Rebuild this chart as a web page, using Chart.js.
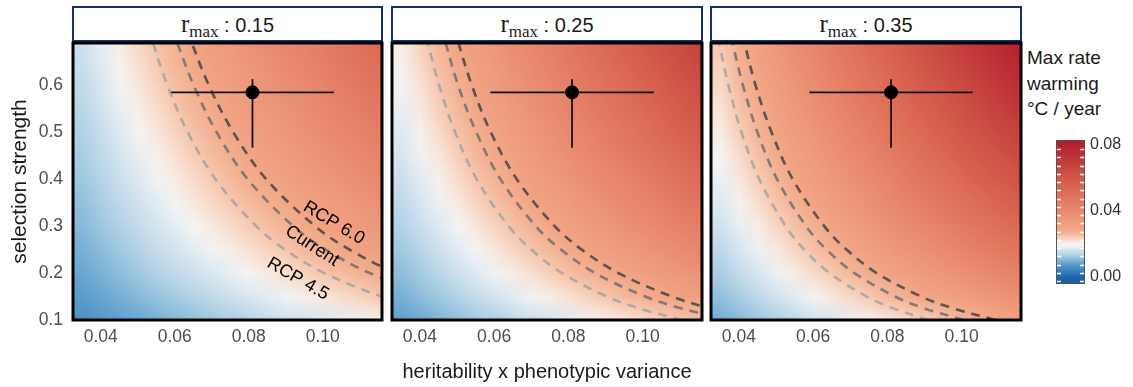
<!DOCTYPE html>
<html>
<head>
<meta charset="utf-8">
<script src="https://cdn.jsdelivr.net/npm/chart.js@4.4.1/dist/chart.umd.min.js"></script>
<style>
  body { margin: 0; background: #fff; }
  #wrap { position: relative; width: 1133px; height: 387px; overflow: hidden; font-family: "Liberation Sans", Arial, sans-serif; }
  canvas { position: absolute; }
  .strip { position: absolute; top: 6px; height: 36px; box-sizing: border-box; border: 2.5px solid #14306e; background: #fff;
           text-align: center; font-size: 20px; line-height: 31px; color: #1a1a1a; }
  .strip .m { font-family: "Liberation Serif", "DejaVu Serif", serif; font-size: 25px; }
  .strip sub { font-size: 17px; vertical-align: -5px; line-height: 0; }
  #legtitle { position: absolute; left: 1027px; top: 45px; font-size: 19px; line-height: 25.5px; color: #1a1a1a; }
</style>
</head>
<body>
<div id="wrap">
  <div class="strip" id="s1" style="left:72px;width:311px"></div>
  <div class="strip" id="s2" style="left:391px;width:312px"></div>
  <div class="strip" id="s3" style="left:710px;width:312px"></div>
  <div id="legtitle">Max rate<br>warming<br>°C / year</div>
  <canvas id="p1" width="384" height="347" style="left:0;top:40px"></canvas>
  <canvas id="p2" width="320" height="347" style="left:386px;top:40px"></canvas>
  <canvas id="p3" width="320" height="347" style="left:706px;top:40px"></canvas>
  <canvas id="cb" width="93" height="387" style="left:1040px;top:0"></canvas>
</div>
<script>
// facets
const rMax = [0.15, 0.25, 0.35];

// axes
const xTicks = [0.04, 0.06, 0.08, 0.10];
const yTicks = [0.1, 0.2, 0.3, 0.4, 0.5, 0.6];
const xMin = 0.0325, xMax = 0.1160;
const yMin = 0.1, yMax = 0.69;

// heat grid: heritability x phenotypic variance (columns), selection strength (rows, bottom to top)
const gridX = [0.035, 0.040, 0.045, 0.050, 0.055, 0.060, 0.065, 0.070, 0.075, 0.080, 0.085, 0.090, 0.095, 0.100, 0.105, 0.110, 0.115];
const gridY = [0.10, 0.15, 0.20, 0.25, 0.30, 0.35, 0.40, 0.45, 0.50, 0.55, 0.60, 0.65, 0.70];

// max rate of warming (°C / year), r_max = 0.15
const rate015 = [
  [0.0061,0.0069,0.0078,0.0087,0.0095,0.0104,0.0113,0.0121,0.0130,0.0139,0.0147,0.0156,0.0165,0.0173,0.0182,0.0191,0.0199],
  [0.0074,0.0085,0.0095,0.0106,0.0117,0.0127,0.0138,0.0148,0.0159,0.0170,0.0180,0.0191,0.0202,0.0212,0.0223,0.0233,0.0244],
  [0.0086,0.0098,0.0110,0.0122,0.0135,0.0147,0.0159,0.0171,0.0184,0.0196,0.0208,0.0220,0.0233,0.0245,0.0257,0.0269,0.0282],
  [0.0096,0.0110,0.0123,0.0137,0.0151,0.0164,0.0178,0.0192,0.0205,0.0219,0.0233,0.0246,0.0260,0.0274,0.0288,0.0301,0.0315],
  [0.0105,0.0120,0.0135,0.0150,0.0165,0.0180,0.0195,0.0210,0.0225,0.0240,0.0255,0.0270,0.0285,0.0300,0.0315,0.0330,0.0345],
  [0.0113,0.0130,0.0146,0.0162,0.0178,0.0194,0.0211,0.0227,0.0243,0.0259,0.0275,0.0292,0.0308,0.0324,0.0340,0.0356,0.0373],
  [0.0121,0.0139,0.0156,0.0173,0.0191,0.0208,0.0225,0.0242,0.0260,0.0277,0.0294,0.0312,0.0329,0.0346,0.0364,0.0381,0.0398],
  [0.0129,0.0147,0.0165,0.0184,0.0202,0.0220,0.0239,0.0257,0.0276,0.0294,0.0312,0.0331,0.0349,0.0367,0.0386,0.0404,0.0423],
  [0.0136,0.0155,0.0174,0.0194,0.0213,0.0232,0.0252,0.0271,0.0290,0.0310,0.0329,0.0349,0.0368,0.0387,0.0407,0.0426,0.0445],
  [0.0142,0.0162,0.0183,0.0203,0.0223,0.0244,0.0264,0.0284,0.0305,0.0325,0.0345,0.0366,0.0386,0.0406,0.0427,0.0447,0.0467],
  [0.0148,0.0170,0.0191,0.0212,0.0233,0.0255,0.0276,0.0297,0.0318,0.0339,0.0361,0.0382,0.0403,0.0424,0.0445,0.0467,0.0488],
  [0.0155,0.0177,0.0199,0.0221,0.0243,0.0265,0.0287,0.0309,0.0331,0.0353,0.0375,0.0397,0.0420,0.0442,0.0464,0.0486,0.0508],
  [0.0160,0.0183,0.0206,0.0229,0.0252,0.0275,0.0298,0.0321,0.0344,0.0367,0.0390,0.0412,0.0435,0.0458,0.0481,0.0504,0.0527]
];

// r_max = 0.25
const rate025 = [
  [0.0078,0.0089,0.0101,0.0112,0.0123,0.0134,0.0145,0.0157,0.0168,0.0179,0.0190,0.0201,0.0212,0.0224,0.0235,0.0246,0.0257],
  [0.0096,0.0110,0.0123,0.0137,0.0151,0.0164,0.0178,0.0192,0.0205,0.0219,0.0233,0.0246,0.0260,0.0274,0.0288,0.0301,0.0315],
  [0.0111,0.0126,0.0142,0.0158,0.0174,0.0190,0.0206,0.0221,0.0237,0.0253,0.0269,0.0285,0.0300,0.0316,0.0332,0.0348,0.0364],
  [0.0124,0.0141,0.0159,0.0177,0.0194,0.0212,0.0230,0.0247,0.0265,0.0283,0.0301,0.0318,0.0336,0.0354,0.0371,0.0389,0.0407],
  [0.0136,0.0155,0.0174,0.0194,0.0213,0.0232,0.0252,0.0271,0.0290,0.0310,0.0329,0.0349,0.0368,0.0387,0.0407,0.0426,0.0445],
  [0.0146,0.0167,0.0188,0.0209,0.0230,0.0251,0.0272,0.0293,0.0314,0.0335,0.0356,0.0377,0.0397,0.0418,0.0439,0.0460,0.0481],
  [0.0157,0.0179,0.0201,0.0224,0.0246,0.0268,0.0291,0.0313,0.0335,0.0358,0.0380,0.0402,0.0425,0.0447,0.0470,0.0492,0.0514],
  [0.0166,0.0190,0.0213,0.0237,0.0261,0.0285,0.0308,0.0332,0.0356,0.0379,0.0403,0.0427,0.0451,0.0474,0.0498,0.0522,0.0545],
  [0.0175,0.0200,0.0225,0.0250,0.0275,0.0300,0.0325,0.0350,0.0375,0.0400,0.0425,0.0450,0.0475,0.0500,0.0525,0.0550,0.0575],
  [0.0184,0.0210,0.0236,0.0262,0.0288,0.0315,0.0341,0.0367,0.0393,0.0420,0.0446,0.0472,0.0498,0.0524,0.0551,0.0577,0.0603],
  [0.0192,0.0219,0.0246,0.0274,0.0301,0.0329,0.0356,0.0383,0.0411,0.0438,0.0466,0.0493,0.0520,0.0548,0.0575,0.0602,0.0630],
  [0.0200,0.0228,0.0257,0.0285,0.0314,0.0342,0.0371,0.0399,0.0428,0.0456,0.0485,0.0513,0.0542,0.0570,0.0599,0.0627,0.0656],
  [0.0207,0.0237,0.0266,0.0296,0.0325,0.0355,0.0385,0.0414,0.0444,0.0473,0.0503,0.0532,0.0562,0.0592,0.0621,0.0651,0.0680]
];

// r_max = 0.35
const rate035 = [
  [0.0093,0.0106,0.0119,0.0132,0.0146,0.0159,0.0172,0.0185,0.0198,0.0212,0.0225,0.0238,0.0251,0.0265,0.0278,0.0291,0.0304],
  [0.0113,0.0130,0.0146,0.0162,0.0178,0.0194,0.0211,0.0227,0.0243,0.0259,0.0275,0.0292,0.0308,0.0324,0.0340,0.0356,0.0373],
  [0.0131,0.0150,0.0168,0.0187,0.0206,0.0224,0.0243,0.0262,0.0281,0.0299,0.0318,0.0337,0.0355,0.0374,0.0393,0.0412,0.0430],
  [0.0146,0.0167,0.0188,0.0209,0.0230,0.0251,0.0272,0.0293,0.0314,0.0335,0.0356,0.0377,0.0397,0.0418,0.0439,0.0460,0.0481],
  [0.0160,0.0183,0.0206,0.0229,0.0252,0.0275,0.0298,0.0321,0.0344,0.0367,0.0390,0.0412,0.0435,0.0458,0.0481,0.0504,0.0527],
  [0.0173,0.0198,0.0223,0.0247,0.0272,0.0297,0.0322,0.0346,0.0371,0.0396,0.0421,0.0445,0.0470,0.0495,0.0520,0.0544,0.0569],
  [0.0185,0.0212,0.0238,0.0265,0.0291,0.0317,0.0344,0.0370,0.0397,0.0423,0.0450,0.0476,0.0503,0.0529,0.0556,0.0582,0.0609],
  [0.0196,0.0224,0.0253,0.0281,0.0309,0.0337,0.0365,0.0393,0.0421,0.0449,0.0477,0.0505,0.0533,0.0561,0.0589,0.0617,0.0645],
  [0.0207,0.0237,0.0266,0.0296,0.0325,0.0355,0.0385,0.0414,0.0444,0.0473,0.0503,0.0532,0.0562,0.0592,0.0621,0.0651,0.0680],
  [0.0217,0.0248,0.0279,0.0310,0.0341,0.0372,0.0403,0.0434,0.0465,0.0496,0.0527,0.0558,0.0589,0.0620,0.0652,0.0683,0.0714],
  [0.0227,0.0259,0.0292,0.0324,0.0356,0.0389,0.0421,0.0454,0.0486,0.0518,0.0551,0.0583,0.0616,0.0648,0.0680,0.0713,0.0745],
  [0.0236,0.0270,0.0304,0.0337,0.0371,0.0405,0.0438,0.0472,0.0506,0.0540,0.0573,0.0607,0.0641,0.0675,0.0708,0.0742,0.0776],
  [0.0245,0.0280,0.0315,0.0350,0.0385,0.0420,0.0455,0.0490,0.0525,0.0560,0.0595,0.0630,0.0665,0.0700,0.0735,0.0770,0.0805]
];

// warming-rate contours (x at each selection strength in contourY)
const contourY = [0.1, 0.125, 0.15, 0.2, 0.25, 0.3, 0.4, 0.5, 0.6, 0.7];
const rcp45_015   = [0.1420, 0.1270, 0.1159, 0.1004, 0.0898, 0.0820, 0.0710, 0.0635, 0.0580, 0.0537];
const current_015 = [0.1594, 0.1425, 0.1301, 0.1127, 0.1008, 0.0920, 0.0797, 0.0713, 0.0651, 0.0602];
const rcp60_015   = [0.1695, 0.1516, 0.1384, 0.1199, 0.1072, 0.0979, 0.0847, 0.0758, 0.0692, 0.0641];
const rcp45_025   = [0.1107, 0.0990, 0.0904, 0.0783, 0.0700, 0.0639, 0.0553, 0.0495, 0.0452, 0.0418];
const current_025 = [0.1233, 0.1103, 0.1007, 0.0872, 0.0780, 0.0712, 0.0617, 0.0552, 0.0503, 0.0466];
const rcp60_025   = [0.1322, 0.1182, 0.1079, 0.0935, 0.0836, 0.0763, 0.0661, 0.0591, 0.0540, 0.0500];
const rcp45_035   = [0.0911, 0.0815, 0.0744, 0.0644, 0.0576, 0.0526, 0.0455, 0.0407, 0.0372, 0.0344];
const current_035 = [0.1006, 0.0899, 0.0821, 0.0711, 0.0636, 0.0581, 0.0503, 0.0450, 0.0411, 0.0380];
const rcp60_035   = [0.1091, 0.0976, 0.0891, 0.0771, 0.0690, 0.0630, 0.0545, 0.0488, 0.0445, 0.0412];

// contour names and where they are written (first panel)
const contourNames = ['RCP 6.0', 'Current', 'RCP 4.5'];
const labelX = [0.1030, 0.0971, 0.0933];
const labelY = [0.3066, 0.2576, 0.1873];
const labelAngle = [31, 33, 30];

// observed estimate with ranges
const obsX = [0.081];
const obsY = [0.585];
const obsXRange = [0.059, 0.103];
const obsYRange = [0.467, 0.613];

// colour scale
const cbTicks = [0.00, 0.04, 0.08];
const cbMarks = [-0.0025, 0.0025, 0.0075, 0.0125, 0.0175, 0.0225, 0.0275, 0.0325, 0.0375, 0.0425, 0.0475, 0.0525, 0.0575, 0.0625, 0.0675, 0.0725, 0.0775];
const colorStops = [-0.0042, 0, 0.006, 0.009, 0.012, 0.015, 0.018, 0.0195, 0.0215, 0.0235, 0.026, 0.029, 0.035, 0.045, 0.055, 0.065, 0.075, 0.083];
const stopColors = ['#1a5a9e', '#2166ac', '#4a90c3', '#6eaad3', '#9dc7e0', '#c4dbeb', '#e4edf3', '#f6f5f4', '#f9e5da',
                    '#f8d1bc', '#f5b99c', '#f2a686', '#ee9779', '#e47d63', '#d8644f', '#ca4a42', '#bb2e36', '#b2182b'];

Chart.defaults.font.family = '"Liberation Sans", Arial, sans-serif';

document.getElementById('s1').innerHTML = '<span class="m">r<sub>max</sub></span> : ' + rMax[0].toFixed(2);
document.getElementById('s2').innerHTML = '<span class="m">r<sub>max</sub></span> : ' + rMax[1].toFixed(2);
document.getElementById('s3').innerHTML = '<span class="m">r<sub>max</sub></span> : ' + rMax[2].toFixed(2);

function hexToRgb(h) {
  return [parseInt(h.slice(1, 3), 16), parseInt(h.slice(3, 5), 16), parseInt(h.slice(5, 7), 16)];
}
function rateColor(v) {
  if (v <= colorStops[0]) return hexToRgb(stopColors[0]);
  for (let i = 1; i < colorStops.length; i++) {
    if (v <= colorStops[i]) {
      const t = (v - colorStops[i - 1]) / (colorStops[i] - colorStops[i - 1]);
      const a = hexToRgb(stopColors[i - 1]), b = hexToRgb(stopColors[i]);
      return a.map((c, k) => Math.round(c + (b[k] - c) * t));
    }
  }
  return hexToRgb(stopColors[stopColors.length - 1]);
}

// no automatic label padding: the plot areas are placed by hand
function noPad(s) {
  s.paddingTop = 0; s.paddingBottom = 0; s.paddingLeft = 0; s.paddingRight = 0;
}

// heat field: one pixel per grid cell, stretched over the cell extents given by the scales
const heatPlugin = {
  id: 'heat',
  beforeDatasetsDraw(chart, args, opts) {
    const rates = opts.rates;
    if (!rates) return;
    const nx = gridX.length, ny = gridY.length;
    const off = document.createElement('canvas');
    off.width = nx; off.height = ny;
    const octx = off.getContext('2d');
    const img = octx.createImageData(nx, ny);
    for (let j = 0; j < ny; j++) {
      for (let i = 0; i < nx; i++) {
        const c = rateColor(rates[j][i]);
        const p = ((ny - 1 - j) * nx + i) * 4;
        img.data[p] = c[0]; img.data[p + 1] = c[1]; img.data[p + 2] = c[2]; img.data[p + 3] = 255;
      }
    }
    octx.putImageData(img, 0, 0);
    const {ctx, chartArea, scales: {x, y}} = chart;
    const hx = (gridX[1] - gridX[0]) / 2, hy = (gridY[1] - gridY[0]) / 2;
    const left = x.getPixelForValue(gridX[0] - hx), right = x.getPixelForValue(gridX[nx - 1] + hx);
    const top = y.getPixelForValue(gridY[ny - 1] + hy), bottom = y.getPixelForValue(gridY[0] - hy);
    ctx.save();
    ctx.beginPath();
    ctx.rect(chartArea.left, chartArea.top, chartArea.width, chartArea.height);
    ctx.clip();
    ctx.imageSmoothingEnabled = true;
    ctx.imageSmoothingQuality = 'low';
    ctx.drawImage(off, left, top, right - left, bottom - top);
    ctx.restore();
  }
};

const contourTextPlugin = {
  id: 'contourText',
  afterDatasetsDraw(chart, args, opts) {
    if (!opts.show) return;
    const {ctx, scales: {x, y}} = chart;
    ctx.save();
    ctx.font = '18px "Liberation Sans", Arial, sans-serif';
    ctx.fillStyle = '#000';
    ctx.textAlign = 'center';
    ctx.textBaseline = 'middle';
    contourNames.forEach((t, i) => {
      ctx.save();
      ctx.translate(x.getPixelForValue(labelX[i]), y.getPixelForValue(labelY[i]));
      ctx.rotate(labelAngle[i] * Math.PI / 180);
      ctx.fillText(t, 0, 0);
      ctx.restore();
    });
    ctx.restore();
  }
};

const framePlugin = {
  id: 'frame',
  afterDraw(chart) {
    const {ctx, chartArea: a} = chart;
    ctx.save();
    ctx.strokeStyle = '#000';
    ctx.lineWidth = 3;
    ctx.strokeRect(a.left, a.top, a.width, a.height);
    ctx.restore();
  }
};

function contour(xs, color) {
  return {
    data: xs.map((v, i) => ({x: v, y: contourY[i]})),
    showLine: true, borderColor: color, borderWidth: 2.6, borderDash: [9, 7],
    pointRadius: 0, tension: 0.35, clip: 0
  };
}

function makePanel(id, rates, c45, cCur, c60, opt) {
  return new Chart(document.getElementById(id), {
    type: 'scatter',
    data: {
      datasets: [
        {data: [{x: obsX[0], y: obsY[0]}], pointRadius: 6.5, backgroundColor: '#000', borderColor: '#000', clip: 0},
        {data: [{x: obsXRange[0], y: obsY[0]}, {x: obsXRange[1], y: obsY[0]}], showLine: true, borderColor: '#111',
         borderWidth: 1.8, pointRadius: 0, clip: 0},
        {data: [{x: obsX[0], y: obsYRange[0]}, {x: obsX[0], y: obsYRange[1]}], showLine: true, borderColor: '#111',
         borderWidth: 1.8, pointRadius: 0, clip: 0},
        contour(c60, 'rgba(60,60,60,0.8)'),
        contour(cCur, 'rgba(105,105,105,0.8)'),
        contour(c45, 'rgba(160,160,160,0.8)')
      ]
    },
    options: {
      responsive: false,
      animation: false,
      devicePixelRatio: 1,
      layout: {padding: opt.padding, autoPadding: false},
      plugins: {
        legend: {display: false},
        tooltip: {enabled: false},
        heat: {rates: rates},
        contourText: {show: opt.labels}
      },
      scales: {
        x: {
          type: 'linear', min: xMin, max: xMax,
          afterBuildTicks: s => { s.ticks = xTicks.map(v => ({value: v})); },
          afterFit: s => { s.height = 67; noPad(s); },
          grid: {display: false, drawTicks: false},
          border: {display: false},
          ticks: {padding: 7, color: '#4d4d4d', font: {size: 17.5}, maxRotation: 0, callback: v => v.toFixed(2)},
          title: {display: opt.xTitle, text: 'heritability x phenotypic variance', color: '#1a1a1a',
                  font: {size: 20}, padding: {top: 0, bottom: 3}}
        },
        y: {
          type: 'linear', min: yMin, max: yMax, display: opt.showY,
          afterBuildTicks: s => { s.ticks = yTicks.map(v => ({value: v})); },
          afterFit: s => { if (opt.showY) s.width = 73; else s.width = 0; noPad(s); },
          grid: {display: false, drawTicks: false},
          border: {display: false},
          ticks: {padding: 10, color: '#4d4d4d', font: {size: 17.5}, callback: v => v.toFixed(1)},
          title: {display: true, text: 'selection strength', color: '#1a1a1a', font: {size: 21}, padding: {top: 8, bottom: 0}}
        }
      }
    },
    plugins: [heatPlugin, contourTextPlugin, framePlugin]
  });
}

makePanel('p1', rate015, rcp45_015, current_015, rcp60_015,
  {padding: {top: 3, right: 2, left: 0, bottom: 0}, showY: true, xTitle: false, labels: true});
makePanel('p2', rate025, rcp45_025, current_025, rcp60_025,
  {padding: {top: 3, right: 4, left: 6, bottom: 0}, showY: false, xTitle: true, labels: false});
makePanel('p3', rate035, rcp45_035, current_035, rcp60_035,
  {padding: {top: 3, right: 5, left: 5, bottom: 0}, showY: false, xTitle: false, labels: false});

// colour bar
const colorBarPlugin = {
  id: 'colorBar',
  afterDraw(chart) {
    const {ctx, chartArea: a, scales: {y}} = chart;
    const g = ctx.createLinearGradient(0, a.bottom, 0, a.top);
    colorStops.forEach((v, i) => {
      const p = (y.getPixelForValue(v) - a.bottom) / (a.top - a.bottom);
      g.addColorStop(Math.min(1, Math.max(0, p)), stopColors[i]);
    });
    ctx.save();
    ctx.fillStyle = g;
    ctx.fillRect(a.left, a.top, a.width, a.height);
    ctx.strokeStyle = '#ffffff';
    ctx.lineWidth = 1.5;
    cbMarks.forEach(v => {
      const py = Math.round(y.getPixelForValue(v)) + 0.5;
      ctx.beginPath();
      ctx.moveTo(a.left, py); ctx.lineTo(a.left + 5, py);
      ctx.moveTo(a.right - 5, py); ctx.lineTo(a.right, py);
      ctx.stroke();
    });
    ctx.strokeStyle = '#555';
    ctx.lineWidth = 1;
    ctx.strokeRect(a.left + 0.5, a.top + 0.5, a.width - 1, a.height - 1);
    ctx.restore();
  }
};

new Chart(document.getElementById('cb'), {
  type: 'scatter',
  data: {datasets: []},
  options: {
    responsive: false,
    animation: false,
    devicePixelRatio: 1,
    layout: {padding: {top: 140, bottom: 103, left: 16, right: 0}, autoPadding: false},
    plugins: {legend: {display: false}, tooltip: {enabled: false}},
    scales: {
      x: {display: false, min: 0, max: 1},
      y: {
        position: 'right', min: -0.0042, max: 0.083,
        afterBuildTicks: s => { s.ticks = cbTicks.map(v => ({value: v})); },
        afterFit: s => { s.width = 48; noPad(s); },
        grid: {display: false, drawTicks: false},
        border: {display: false},
        ticks: {padding: 5, color: '#333', font: {size: 16}, callback: v => v.toFixed(2)}
      }
    }
  },
  plugins: [colorBarPlugin]
});
</script>
</body>
</html>
